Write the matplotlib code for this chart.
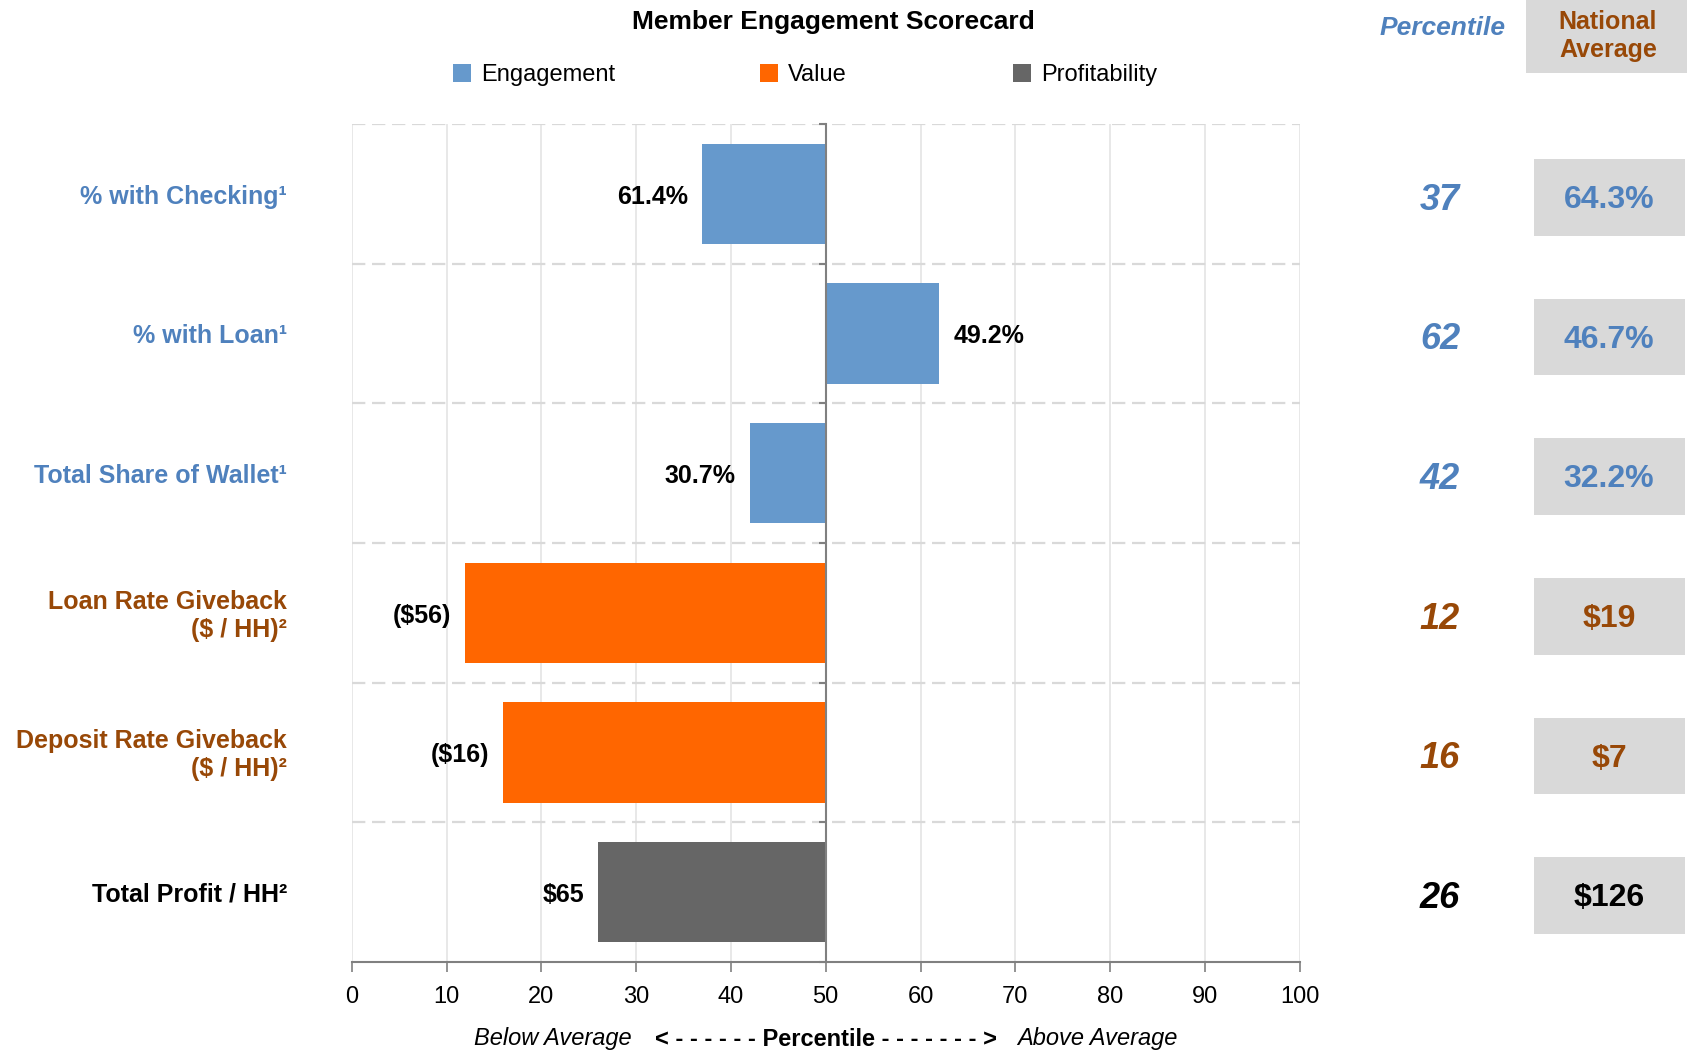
import matplotlib.pyplot as plt
from matplotlib.patches import Rectangle
from matplotlib.transforms import blended_transform_factory

plt.rcParams['font.family'] = ['Liberation Sans', 'DejaVu Sans']

# scorecard rows, top to bottom
categories = ["% with Checking¹", "% with Loan¹", "Total Share of Wallet¹",
              "Loan Rate Giveback\n($ / HH)²", "Deposit Rate Giveback\n($ / HH)²",
              "Total Profit / HH²"]
groups = ["Engagement", "Engagement", "Engagement", "Value", "Value", "Profitability"]
percentiles = [37, 62, 42, 12, 16, 26]
bar_labels = ["61.4%", "49.2%", "30.7%", "($56)", "($16)", "$65"]
national_avg = ["64.3%", "46.7%", "32.2%", "$19", "$7", "$126"]
x_ticks = list(range(0, 101, 10))

bar_colors = {"Engagement": "#6699CC", "Value": "#FF6600", "Profitability": "#666666"}
text_colors = {"Engagement": "#4F81BD", "Value": "#984807", "Profitability": "#000000"}
grey_box = "#D9D9D9"

W, H = 1687, 1051
fig = plt.figure(figsize=(W / 100, H / 100), dpi=100)
ax = fig.add_axes([351.7 / W, 89 / H, 948 / W, 838 / H])

rows = list(range(len(categories)))
ax.set_xlim(0, 100)
ax.set_ylim(len(rows) - 0.5, -0.5)

# grid: solid verticals, dashed row separators
for x in x_ticks:
    ax.axvline(x, color="#E4E4E4", lw=1.2, zorder=0)
for b in [r - 0.5 for r in rows]:
    ax.axhline(b, color="#D9D9D9", lw=1.6, ls=(0, (6, 3)), zorder=0)

# bars grow out from the 50th percentile
ax.barh(rows, [p - 50 for p in percentiles], left=50, height=0.72,
        color=[bar_colors[g] for g in groups], zorder=2)

for i, (p, lab) in enumerate(zip(percentiles, bar_labels)):
    off = -10 if p < 50 else 10
    ax.annotate(lab, xy=(p, i), xytext=(off, -2), textcoords="offset points",
                ha="right" if p < 50 else "left", va="center",
                fontsize=18, fontweight="bold", color="black")

# axes styling: left spine sits on the 50 line
for s in ["top", "right"]:
    ax.spines[s].set_visible(False)
ax.spines["left"].set_position(("data", 50))
ax.spines["left"].set_color("#808080")
ax.spines["left"].set_linewidth(1.5)
ax.spines["left"].set_zorder(3)
ax.spines["bottom"].set_color("#808080")
ax.spines["bottom"].set_linewidth(1.5)
ax.set_yticks([r - 0.5 for r in rows] + [len(rows) - 0.5])
ax.set_yticklabels([])
ax.tick_params(axis="y", length=5, color="#808080", width=1.5)
ax.set_xticks(x_ticks)
ax.tick_params(axis="x", length=7, color="#808080", width=1.2,
               labelsize=17, pad=10.5)

# category labels left of the plot
row_t = blended_transform_factory(fig.transFigure, ax.transData)
for i, (cat, g) in enumerate(zip(categories, groups)):
    fig.text(287 / W, i + 0.02, cat, transform=row_t, ha="right", va="center",
             fontsize=18, fontweight="bold", color=text_colors[g])

# percentile column and national average boxes
fig.text(1443 / W, 1 - 28 / H, "Percentile", ha="center", va="center",
         fontsize=19, fontweight="bold", style="italic", color="#4F81BD")
fig.add_artist(Rectangle((1526 / W, 1 - 73 / H), 161 / W, 73 / H,
                         transform=fig.transFigure, facecolor=grey_box,
                         edgecolor="none"))
fig.text(1608 / W, 1 - 36 / H, "National\nAverage", ha="center", va="center",
         fontsize=18, fontweight="bold", color="#984807")

for i, (p, avg, g) in enumerate(zip(percentiles, national_avg, groups)):
    c = text_colors[g]
    fig.text(1440 / W, i + 0.045, str(p), transform=row_t, ha="center",
             va="center", fontsize=26, fontweight="bold", style="italic", color=c)
    fig.add_artist(Rectangle((1534 / W, i + 0.025 - 0.275), 151 / W, 0.55,
                             transform=row_t, facecolor=grey_box, edgecolor="none"))
    fig.text(1609 / W, i + 0.045, avg, transform=row_t, ha="center",
             va="center", fontsize=23, fontweight="bold", color=c)

# title and legend
fig.text(833 / W, 1 - 22 / H, "Member Engagement Scorecard", ha="center",
         va="center", fontsize=19, fontweight="bold")
legend_x = {"Engagement": 453, "Value": 760, "Profitability": 1013}
ly = 1 - 73 / H
for name, x in legend_x.items():
    fig.add_artist(Rectangle((x / W, ly - 9 / H), 18 / W, 18 / H,
                             transform=fig.transFigure,
                             facecolor=bar_colors[name], edgecolor="none"))
    fig.text((x + 28) / W, ly - 2 / H, name, ha="left", va="center", fontsize=17)

# caption under the x axis
cap_t = blended_transform_factory(ax.transData, fig.transFigure)
cy = 12 / H
fig.text(29.5, cy, "Below Average", transform=cap_t, ha="right", va="center",
         fontsize=17, style="italic")
fig.text(50, cy, "< - - - - - - Percentile - - - - - - - >", transform=cap_t,
         ha="center", va="center", fontsize=17, fontweight="bold")
fig.text(70.2, cy, "Above Average", transform=cap_t, ha="left", va="center",
         fontsize=17, style="italic")

fig.savefig("out.png", dpi=100)
